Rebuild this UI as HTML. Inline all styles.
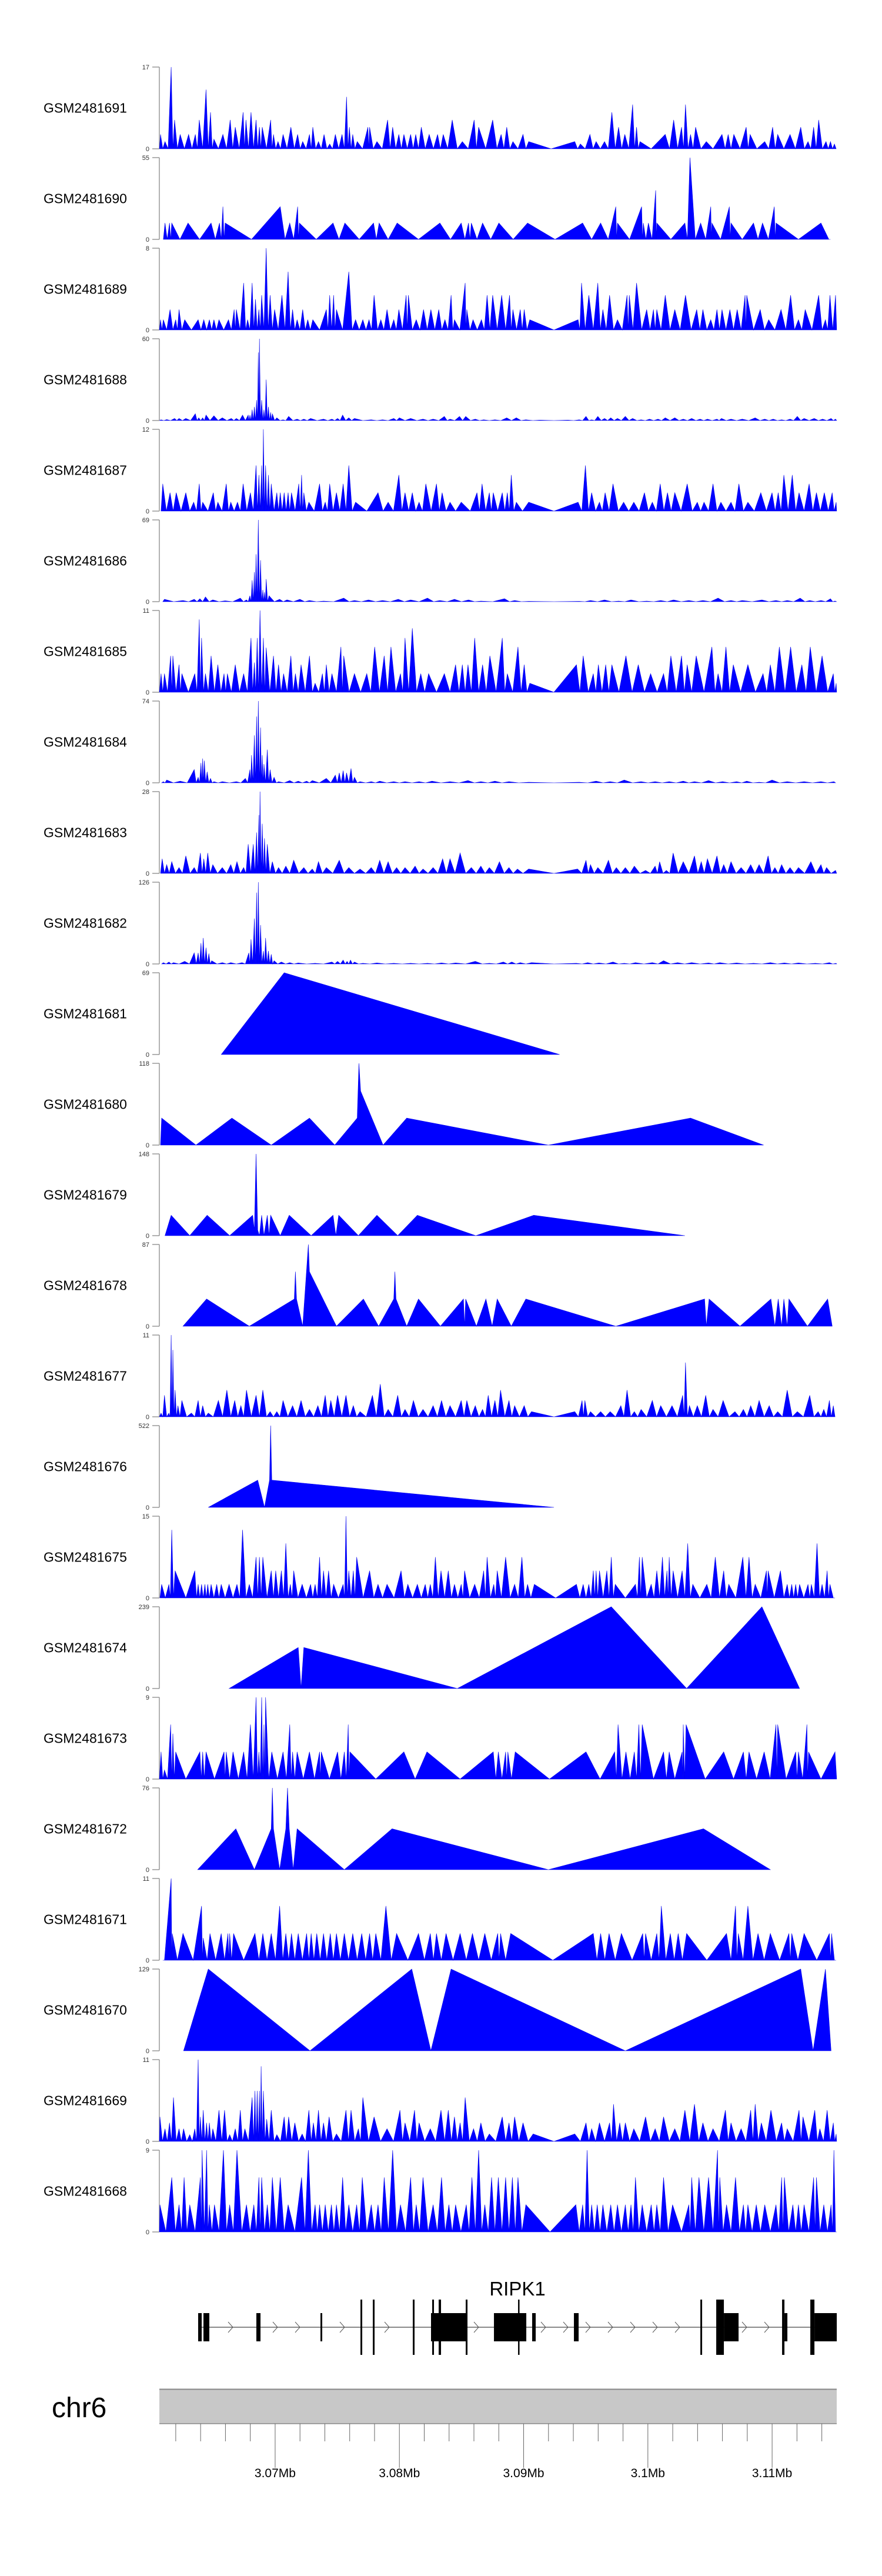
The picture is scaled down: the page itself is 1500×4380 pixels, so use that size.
<!DOCTYPE html>
<html><head><meta charset="utf-8">
<style>
html,body{margin:0;padding:0;background:#fff;}
svg{display:block;font-family:"Liberation Sans",Arial,sans-serif;}
</style></head>
<body>
<svg id="fig" xmlns="http://www.w3.org/2000/svg" width="1500" height="4380" viewBox="0 0 1500 4380">
<rect x="0" y="0" width="1500" height="4380" fill="#ffffff"/>
<g id="tracks"></g>
<g id="gene"></g>
<g id="ideo"></g>
</svg>
<script>
// ---- data ----
const trackNames=["GSM2481691","GSM2481690","GSM2481689","GSM2481688","GSM2481687","GSM2481686","GSM2481685","GSM2481684","GSM2481683","GSM2481682","GSM2481681","GSM2481680","GSM2481679","GSM2481678","GSM2481677","GSM2481676","GSM2481675","GSM2481674","GSM2481673","GSM2481672","GSM2481671","GSM2481670","GSM2481669","GSM2481668"];
const trackMax=[17,55,8,60,12,69,11,74,28,126,69,118,148,87,11,522,15,239,9,76,11,129,11,9];
// 's' = spiky peaks (zero between peaks), 'v' = explicit vertices
const trackMode=["s","s","s","s","s","s","s","s","s","s","v","v","v","v","s","v","s","v","s","v","s","v","s","s"];
// positions are genomic bins: bp = binOrigin + bin*binSize
const binOrigin=3047880, binSize=45.24;
const track01=[[285,3],[293,1.5],[304,17],[310,6],[320,3],[335,3],[347,3],[354,6],[366,12.3],[374,7.6],[380,2],[396,3],[409,6],[418,4.5],[432,7.6],[437,6],[446,7.6],[455,6],[461,4.5],[466,4.5],[481,6],[486,3],[494,1.5],[503,3],[517,4.5],[529,3],[538,1.5],[550,3],[556,4.5],[566,1.5],[576,3],[586,1],[596,3],[608,3],[616,10.8],[621,4.5],[627,3],[635,1.5],[654,4.5],[657,4.5],[670,1.5],[689,6],[698,4.5],[709,3],[718,3],[730,3],[739,3],[749,4.5],[763,3],[778,3],[788,3],[804,6],[822,1.5],[843,6],[851,4.5],[876,6],[891,3],[901,4.5],[912,1.5],[930,3],[940,1.5],[980,0],[1022,1.5],[1032,1],[1049,3],[1060,1.5],[1075,1.5],[1088,7.6],[1100,4.5],[1111,3],[1125,9.2],[1132,4.5],[1138,1.5],[1158,0],[1183,3],[1198,6],[1212,4.5],[1219,9.2],[1228,3],[1237,4.5],[1256,1.5],[1268,0],[1284,3],[1295,3],[1305,3],[1327,4.5],[1334,3],[1346,0],[1360,1.5],[1374,4.5],[1383,3],[1405,3],[1424,4.5],[1437,1.5],[1447,4.5],[1456,6],[1469,1.5],[1477,1.5],[1484,1]];
const track02=[[293,11],[301,11],[305,11],[334,11],[375,11],[390,11],[396,22],[400,11],[447,0],[498,22],[515,11],[529,22],[532,11],[592,11],[613,11],[664,11],[674,11],[706,11],[782,11],[820,11],[833,11],[838,11],[858,11],[887,11],[938,11],[1036,11],[1068,11],[1095,22],[1098,11],[1141,22],[1144,11],[1153,11],[1166,33],[1168,11],[1218,11],[1227,55],[1246,11],[1264,22],[1266,11],[1297,22],[1300,11],[1340,11],[1356,11],[1377,22],[1380,11],[1460,11],[1474,0]];
const track03=[[285,1],[290,1],[302,2],[312,1],[318,2],[328,1],[352,1],[362,1],[372,1],[380,1],[389,1],[406,1],[416,2],[420,2],[433,4.6],[440,1],[448,4.6],[454,3],[460,2],[465,3.4],[473,8],[480,3.4],[488,2],[501,3.4],[512,5.7],[520,2],[528,1],[538,2],[547,1],[556,1],[580,2],[586,3.4],[593,3.4],[598,2],[620,5.7],[632,1],[645,1],[656,1],[665,3.4],[677,1],[688,2],[700,1],[709,2],[722,3.4],[726,3.4],[740,1],[753,2],[766,2],[780,2],[791,1],[802,3.4],[808,1],[827,4.6],[830,2],[841,1],[856,1],[866,3.4],[876,3.4],[892,3.4],[906,3.4],[912,2],[925,2],[932,2],[942,1],[985,0],[1028,1],[1034,4.6],[1047,3.4],[1063,4.6],[1072,2],[1084,3.4],[1098,1],[1115,3.4],[1119,3.4],[1132,4.6],[1150,2],[1162,2],[1168,2],[1183,3.4],[1200,2],[1219,3.4],[1239,2],[1250,2],[1264,1],[1275,2],[1284,2],[1298,2],[1311,2],[1325,3.4],[1328,3.4],[1352,2],[1367,1],[1389,2],[1406,3.4],[1420,1],[1432,2],[1456,3.4],[1468,1],[1476,3.4],[1486,3.4]];
const track04=[[286,0.5],[296,0.7],[310,1.5],[318,1.5],[330,1.5],[347,5],[353,2],[360,2],[366,4],[380,3.5],[395,2],[411,1.5],[420,1.5],[431,4],[441,4],[444,4],[448,8],[452,10],[456,15],[459,50],[461,60],[465,15],[469,8],[473,30],[477,10],[481,6],[484,5],[492,2],[503,0.5],[513,3],[528,1],[540,1],[552,1.5],[575,1],[590,1],[600,1.5],[609,4],[620,2],[630,1.5],[660,0.5],[680,0.5],[700,1.5],[710,2],[730,1.5],[752,1],[770,1],[790,3],[800,1],[817,3],[828,3],[845,1],[860,0.5],[880,0.5],[901,2],[918,2],[935,0.5],[960,0.3],[985,0],[1010,0.3],[1030,0.5],[1042,3],[1052,0.5],[1063,3],[1075,1.5],[1086,2],[1098,1.5],[1112,3],[1125,1.5],[1140,0.5],[1155,1],[1170,1],[1183,2],[1200,2],[1215,1],[1230,1.5],[1245,1],[1258,1],[1275,1],[1283,1.5],[1300,1],[1320,1],[1343,2],[1360,1],[1375,1],[1390,0.5],[1405,1],[1418,3],[1430,1.5],[1448,1.5],[1463,1],[1478,1.5],[1486,1]];
const track05=[[289,4],[302,2.7],[313,2.7],[330,2.7],[344,1.3],[354,4],[360,1.3],[379,2.7],[387,1.3],[402,4],[410,1.3],[422,1.3],[432,4],[445,2.7],[455,6.7],[460,5.3],[465,6.7],[468,12],[472,6.7],[477,5.3],[482,4],[492,2.7],[498,2.7],[505,2.7],[512,2.7],[518,2.7],[531,4],[536,5.3],[540,2.7],[549,1.3],[568,4],[578,1.3],[586,4],[598,2.7],[610,4],[620,6.7],[632,1.3],[652,0],[672,2.7],[690,1.3],[709,5.3],[720,2.7],[733,2.7],[745,1.3],[757,4],[776,4],[786,2.7],[800,1.3],[820,1.3],[836,0],[848,2.7],[857,4],[870,2.7],[877,2.7],[893,2.7],[902,2.7],[909,5.3],[918,1.3],[940,1.3],[985,0],[1028,1.3],[1041,6.7],[1052,2.7],[1066,1.3],[1076,2.7],[1090,4],[1109,1.3],[1127,1.3],[1146,2.7],[1160,1.3],[1174,4],[1187,2.7],[1200,2.7],[1222,4],[1240,1.3],[1252,1.3],[1268,4],[1282,1.3],[1300,1.3],[1314,4],[1330,1.3],[1353,2.7],[1373,2.7],[1384,2.7],[1394,5.3],[1409,5.3],[1421,2.7],[1439,4],[1452,2.7],[1466,2.7],[1480,2.7],[1487,1.3]];
const track06=[[292,2],[325,1],[345,2],[355,2.5],[365,4],[378,1.5],[400,0.7],[427,3],[438,1.5],[444,5],[448,18],[452,25],[455,40],[459,69],[463,35],[467,10],[470,8],[473,19],[478,5],[497,2],[510,1.5],[533,2],[550,1],[575,0.5],[611,3],[630,1],[655,1.5],[680,1],[708,2],[730,1.5],[760,3],[782,1],[808,2],[833,1.5],[855,0.5],[897,2.5],[915,1],[940,0.3],[985,0],[1030,0.3],[1050,1],[1075,1.5],[1100,0.5],[1122,1.5],[1150,0.5],[1175,1],[1198,1.5],[1225,1],[1250,1],[1277,3],[1300,1],[1320,1],[1355,1.5],[1380,1],[1400,1],[1423,3],[1440,1],[1460,1],[1477,2.5],[1485,0.5]];
const track07=[[286,2.5],[292,2.5],[303,4.9],[307,4.9],[318,3.7],[323,2.5],[346,2.5],[354,9.8],[358,7.3],[365,2.5],[375,4.9],[387,3.7],[398,2.5],[404,2.5],[418,3.7],[433,2.5],[446,7.3],[452,4],[457,7.3],[462,11],[468,7.3],[473,6],[486,4.9],[495,3.7],[504,2.5],[517,4.9],[525,2.5],[535,3.7],[550,4.9],[560,1.2],[573,2.5],[580,3.7],[590,2.5],[606,6.1],[611,4.9],[630,2.5],[652,2.5],[666,6.1],[683,4.9],[695,6.1],[712,2.5],[720,7.3],[733,8.6],[748,2.5],[762,2.5],[790,2.5],[810,3.7],[822,3.7],[832,3.7],[844,7.3],[858,3.7],[871,4.9],[893,7.3],[902,2.5],[921,6.1],[932,3.7],[942,1.2],[985,0],[1025,3.7],[1037,4.9],[1055,2.5],[1064,3.7],[1077,3.7],[1088,3.7],[1113,4.9],[1135,3.7],[1157,2.5],[1180,2.5],[1193,4.9],[1212,4.9],[1222,3.7],[1238,4.9],[1266,6.1],[1277,2.5],[1291,6.1],[1304,3.7],[1330,3.7],[1357,2.5],[1370,3.7],[1386,6.1],[1406,6.1],[1426,3.7],[1441,6.1],[1462,4.9],[1482,2.5],[1487,1.2]];
const track08=[[290,1],[296,2.5],[320,1.5],[345,12],[352,5],[357,18],[360,22],[363,20],[368,10],[374,4],[380,1],[395,1],[420,1],[436,4],[444,12],[447,25],[452,43],[456,60],[459,74],[463,50],[466,25],[469,17],[475,30],[480,12],[487,5],[495,1],[515,2],[530,1.5],[545,1.5],[555,2],[580,4],[596,7],[603,9],[610,11],[616,9],[624,13],[630,5],[640,1],[660,1],[675,1.5],[700,1],[720,1],[745,1],[768,1.5],[800,1],[832,2],[855,1],[880,1.5],[905,1],[940,0.5],[985,0],[1030,0.5],[1060,1.5],[1085,1],[1110,2.5],[1140,1],[1165,1],[1190,1],[1215,1.5],[1235,1],[1260,2],[1285,1],[1310,1],[1328,1.5],[1350,0.5],[1373,2.5],[1400,1],[1430,1],[1460,1],[1483,1]];
const track09=[[288,5],[296,3],[305,4],[318,2],[330,6],[345,2],[356,7],[362,5],[369,7],[378,3],[395,2],[410,3],[421,4],[433,2],[441,10],[450,10],[456,14],[460,20],[462,28],[466,17],[470,12],[475,10],[484,4],[495,2],[508,2.5],[522,4.5],[540,2],[555,1.5],[566,4],[580,2],[603,4.5],[620,2],[640,1.5],[660,2],[675,4.5],[690,4],[705,2],[720,2],[738,2.5],[752,1.5],[770,2],[787,5],[800,5],[818,7],[838,2],[855,2.5],[870,2],[888,4],[905,2],[920,1.5],[940,1.5],[985,0],[1027,1.5],[1042,4.5],[1050,3],[1063,2],[1082,4.5],[1096,2],[1112,2],[1128,2.5],[1148,1],[1165,2.5],[1173,4],[1185,1],[1197,7],[1215,4],[1235,6],[1247,4],[1258,5],[1275,6],[1287,3],[1300,4],[1318,2],[1335,3],[1350,3],[1366,6],[1378,2],[1390,3],[1405,2],[1420,2],[1442,4],[1460,3],[1470,2],[1486,1]];
const track10=[[290,2],[300,3],[308,2],[328,4],[345,17],[352,17],[357,32],[361,40],[366,25],[371,16],[376,5],[395,2],[410,2],[430,2],[442,17],[446,38],[452,70],[456,110],[459,126],[463,60],[468,20],[472,40],[477,20],[482,15],[487,5],[500,3],[515,2],[530,1.5],[560,1],[590,3],[600,4],[610,6],[617,4],[623,6],[630,3],[645,1],[670,1.5],[700,1],[730,1],[760,1],[785,1.5],[810,1.5],[845,4],[870,1],[895,3],[910,3],[925,2],[945,2],[985,0],[1025,1],[1045,2],[1065,1.5],[1090,3],[1110,1],[1130,2],[1160,2],[1180,5],[1205,2],[1230,2],[1260,1.5],[1280,2],[1310,1.5],[1340,1],[1370,2],[1395,1.5],[1420,1.5],[1450,1],[1475,2],[1487,1]];
const track11=[[393,0],[505,69],[995,0]];
const track12=[[285,0],[287,39],[348,0],[412,39],[482,0],[550,39],[595,0],[635,39],[638,118],[641,78],[681,0],[723,39],[975,0],[1228,39],[1358,0]];
const track13=[[293,0],[304,37],[337,0],[368,37],[408,0],[449,37],[452,10],[455,148],[458,10],[461,0],[465,37],[469,0],[475,37],[478,0],[481,37],[498,0],[514,37],[553,0],[592,37],[597,0],[602,37],[637,0],[670,37],[707,0],[742,37],[846,0],[949,37],[1218,0]];
const track14=[[325,0],[367,29],[443,0],[523,29],[525,58],[527,29],[538,0],[548,87],[550,58],[598,0],[646,29],[673,0],[700,29],[702,58],[704,29],[723,0],[744,29],[783,0],[824,29],[826,0],[828,29],[847,0],[864,29],[875,0],[884,29],[909,0],[935,29],[1095,0],[1253,29],[1256,0],[1261,29],[1316,0],[1371,29],[1378,0],[1384,29],[1390,0],[1394,29],[1400,0],[1403,29],[1436,0],[1472,29],[1480,0]];
const track15=[[286,0.5],[292,2.9],[300,0.5],[304,11],[307,9],[311,3.6],[316,1.5],[323,2.2],[340,0.5],[352,2.2],[360,1.5],[370,0.5],[388,2.2],[403,3.6],[417,2.2],[428,1.5],[438,3.6],[455,2.9],[467,3.6],[480,0.7],[492,0.7],[503,2.2],[520,1.5],[535,2.2],[550,1],[565,1.5],[578,2.9],[588,2.2],[600,2.9],[615,2.9],[628,1.5],[640,0.7],[662,2.9],[676,4.4],[690,1],[707,2.9],[720,1],[735,2.2],[752,1],[770,1.5],[785,2.2],[800,1.5],[820,2.2],[830,2.2],[845,1.5],[858,1],[868,2.9],[880,2.2],[890,3.6],[905,2.2],[915,1.5],[932,1.5],[945,0.7],[985,0],[1022,0.7],[1035,2.2],[1040,2.2],[1050,0.7],[1068,0.7],[1085,0.7],[1104,1.5],[1115,3.6],[1128,0.7],[1140,1],[1160,2.2],[1175,1.5],[1195,1.5],[1214,2.9],[1219,7.3],[1226,1.5],[1240,1.5],[1255,2.9],[1268,1],[1286,2.2],[1307,0.7],[1322,1],[1335,1.5],[1350,2.2],[1368,1.5],[1383,0.7],[1400,3.6],[1418,0.7],[1440,2.9],[1455,0.7],[1465,1],[1475,2.2],[1482,1.5]];
const track16=[[370,0],[458,174],[470,0],[479,174],[481,522],[483,174],[985,0]];
const track17=[[287,2.5],[300,2.5],[305,12.5],[311,5],[330,0],[346,5],[352,2.5],[358,2.5],[364,2.5],[369,2.5],[375,2.5],[385,2.5],[393,2.5],[407,2.5],[421,2.5],[431,12.5],[443,2.5],[455,7.5],[461,7.5],[467,7.5],[482,5],[490,5],[500,5],[508,10],[516,2.5],[522,5],[537,2.5],[552,2.5],[560,2.5],[568,7.5],[575,5],[584,5],[593,2.5],[610,2.5],[615,15],[620,5],[628,5],[634,7.5],[657,5],[672,2.5],[688,2.5],[713,5],[725,2.5],[742,2.5],[756,2.5],[765,2.5],[774,7.5],[784,5],[797,5],[808,2.5],[820,2.5],[826,5],[844,2.5],[860,5],[866,7.5],[878,2.5],[884,5],[899,7.5],[915,2.5],[928,7.5],[938,2.5],[950,2.5],[988,0],[1025,2.5],[1037,2.5],[1047,2.5],[1055,5],[1060,5],[1066,5],[1079,5],[1087,7.5],[1094,2.5],[1130,2.5],[1137,7.5],[1142,7.5],[1158,2.5],[1168,5],[1178,7.5],[1186,5],[1190,7.5],[1197,5],[1213,5],[1223,10],[1232,2.5],[1257,2.5],[1272,7.5],[1287,5],[1296,2.5],[1321,7.5],[1332,7.5],[1343,2.5],[1363,5],[1366,5],[1388,5],[1400,2.5],[1408,2.5],[1415,2.5],[1422,2.5],[1437,2.5],[1443,2.5],[1453,10],[1462,2.5],[1471,5],[1476,2.5],[1482,0]];
const track18=[[407,0],[530,120],[535,0],[540,120],[813,0],[1087,239],[1221,0],[1355,239],[1422,0]];
const track19=[[286,3],[292,1],[303,6],[307,5],[312,3],[330,0],[355,3],[360,3],[366,3],[381,0],[398,3],[402,3],[414,3],[433,3],[445,6],[455,9],[460,3],[465,9],[469,6],[472,9],[483,3],[503,3],[515,6],[520,3],[528,3],[550,3],[568,3],[571,3],[600,3],[612,3],[619,6],[622,3],[668,0],[718,3],[738,0],[759,3],[818,0],[877,3],[886,3],[899,3],[903,3],[916,3],[977,0],[1042,3],[1067,0],[1093,3],[1099,6],[1113,3],[1128,3],[1136,6],[1142,6],[1162,0],[1180,3],[1190,3],[1200,0],[1213,3],[1215,6],[1220,6],[1254,0],[1287,3],[1322,3],[1332,3],[1359,3],[1380,6],[1383,6],[1398,0],[1415,3],[1420,3],[1435,6],[1438,3],[1460,0],[1485,3]];
const track20=[[351,0],[419,38],[452,0],[482,38],[484,76],[486,38],[497,0],[508,38],[511,76],[514,38],[521,0],[528,38],[612,0],[697,38],[975,0],[1251,38],[1370,0]];
const track21=[[292,0],[304,11],[306,3.6],[315,0],[325,3.6],[343,0],[358,7.3],[361,3],[368,0],[373,3.6],[393,3.6],[405,3.6],[408,3.6],[415,3.6],[433,0],[453,3.6],[467,3.6],[482,3.6],[497,7.3],[508,3.6],[518,3.6],[530,3.6],[545,3.6],[553,3.6],[563,3.6],[575,3.6],[587,3.6],[598,3.6],[612,3.6],[627,3.6],[643,3.6],[657,3.6],[668,3.6],[686,7.3],[705,3.6],[725,0],[744,3.6],[765,3.6],[776,3.6],[793,3.6],[818,3.6],[840,3.6],[862,3.6],[885,3.6],[890,3.6],[908,3.6],[983,0],[1055,3.6],[1068,3.6],[1083,3.6],[1105,3.6],[1143,3.6],[1148,3.6],[1168,3.6],[1176,7.3],[1192,3.6],[1206,3.6],[1221,3.6],[1257,0],[1292,3.6],[1308,7.3],[1313,3.6],[1330,7.3],[1348,3.6],[1370,3.6],[1403,3.6],[1408,3.6],[1430,3.6],[1475,3.6],[1479,3.6],[1484,0]];
const track22=[[326,0],[370,129],[551,0],[732,129],[766,0],[802,129],[1112,0],[1424,129],[1446,0],[1468,129],[1478,0]];
const track23=[[284,3.3],[293,1.7],[301,2.5],[308,5.9],[318,1.7],[326,1.7],[337,0.9],[346,1.7],[352,11],[356,3.3],[361,4.2],[367,2.5],[372,2.5],[378,1.7],[389,4.2],[399,4.2],[408,0.9],[418,1.7],[427,4.2],[435,1.7],[448,5.9],[453,6.8],[457,6.8],[461,6.8],[464,10.1],[468,6.8],[474,3],[482,4.2],[492,0.9],[505,3.3],[513,3.3],[524,2.5],[537,1],[549,4.2],[557,2.5],[566,4.2],[575,2.5],[585,3.3],[598,1],[615,4.2],[624,4.2],[637,1.7],[645,5.9],[665,3.3],[688,1.7],[711,4.2],[720,2.5],[737,4.2],[745,2.5],[765,1.7],[784,4.2],[797,4.2],[808,3.3],[818,2.5],[827,5.9],[842,1.7],[855,2.5],[870,1],[893,3.3],[905,2.5],[915,3.3],[930,2.5],[948,1],[985,0],[1022,1],[1042,2.5],[1052,1.7],[1066,2.5],[1084,2.5],[1091,5],[1102,2.5],[1112,2.5],[1127,1.7],[1148,3.3],[1165,1.7],[1180,3.3],[1200,1.7],[1218,4.2],[1235,5],[1250,2.5],[1268,1.7],[1290,4.2],[1300,2.5],[1318,1.7],[1335,4.2],[1343,5],[1354,2.5],[1371,4.2],[1390,2.5],[1400,1.7],[1421,4.2],[1428,3.3],[1449,4.2],[1458,1.7],[1471,4.2],[1482,2.5],[1487,1]];
const track24=[[284,3],[305,6],[318,3],[327,6],[337,3],[356,6],[359,9],[367,9],[372,3],[381,3],[397,9],[408,3],[421,9],[438,3],[451,3],[460,6],[465,6],[475,3],[484,6],[498,6],[512,3],[536,6],[548,9],[560,3],[568,3],[578,3],[589,3],[598,3],[609,6],[620,3],[634,3],[644,6],[660,3],[672,3],[683,6],[698,9],[712,3],[730,6],[740,3],[752,6],[770,3],[785,6],[798,3],[810,3],[829,3],[839,6],[851,9],[862,3],[874,6],[886,6],[899,6],[911,6],[921,6],[935,3],[978,0],[1024,3],[1036,3],[1044,9],[1052,3],[1062,3],[1072,3],[1086,3],[1098,3],[1112,3],[1122,3],[1130,6],[1142,3],[1158,3],[1168,3],[1180,6],[1196,3],[1212,0],[1225,3],[1230,6],[1243,6],[1260,6],[1276,9],[1280,6],[1292,3],[1308,6],[1322,3],[1330,3],[1345,3],[1360,3],[1380,3],[1390,6],[1395,6],[1410,3],[1420,3],[1430,3],[1447,6],[1452,6],[1465,3],[1478,3],[1483,9],[1486,0]];
const trackData=[track01,track02,track03,track04,track05,track06,track07,track08,track09,track10,track11,track12,track13,track14,track15,track16,track17,track18,track19,track20,track21,track22,track23,track24];
// gene model (bp): exons [start,end,kind] kind: 's' short box, 't' tall
const geneName=["RIPK1"];
const geneStart=[3063804], geneEnd=[3115204];
const exonStarts=[3063804,3064230,3068489,3073648,3076867,3077861,3081079,3082641,3083162,3082546,3085339,3087611,3089551,3090687,3094048,3104224,3105502,3106117,3110802,3110992,3113074,3113406];
const exonEnds  =[3064088,3064703,3068821,3073790,3077009,3078003,3081221,3082783,3083351,3085386,3085481,3090214,3089646,3090971,3094426,3104366,3106117,3107300,3110992,3111228,3113406,3115204];
const exonKinds =["s","s","s","s","t","t","t","t","t","s","t","s","t","s","s","t","t","s","t","s","t","s"];
// axis
const axisStart=3060680, axisEnd=3115200;
const tickStart=3062000, tickEnd=3114000, tickStep=2000, majorStep=10000;
const chromName="chr6";

// ---- drawing ----
const NS="http://www.w3.org/2000/svg";
const X0=271, X1=1423;
function xs(bp){return X0+(bp-axisStart)/(axisEnd-axisStart)*(X1-X0);}
function bx(b){return xs(binOrigin+b*binSize);}
function mk(tag,attrs,parent){const e=document.createElementNS(NS,tag);for(const k in attrs)e.setAttribute(k,attrs[k]);parent.appendChild(e);return e;}

const tracksG=document.getElementById('tracks');
const TOP0=114, PITCH=154, H=139;
trackData.forEach((pts,i)=>{
  const top=TOP0+i*PITCH, base=top+H, max=trackMax[i];
  const yv=v=>base-(v/max)*H;
  const g=mk('g',{},tracksG);
  
  
  const lab=mk('text',{x:74,y:top+H/2+8,'font-size':23,fill:'#000'},g);
  
  
  lab.textContent=trackNames[i];
  const ax=mk('line',{x1:X0,y1:top,x2:X0,y2:base,stroke:'#888','stroke-width':1.3},g);
  
  
  [[max,top],[0,base]].forEach(([v,y])=>{
    const t=mk('line',{x1:259,y1:y,x2:X0,y2:y,stroke:'#888','stroke-width':1.3},g);
    
    
    const tl=mk('text',{x:254,y:y+4,'font-size':11,'text-anchor':'end',fill:'#333'},g);
    
    
    tl.textContent=String(v);
  });
  let verts=[];
  if(trackMode[i]==='v'){
    verts=pts.map(p=>[bx(p[0]),yv(p[1])]);
  } else {
    const first=pts[0][0];
    verts.push([bx(Math.max(283,first-3)),base]);
    pts.forEach((p,k)=>{
      if(k>0 && pts[k-1][1]>0 && p[1]>0){const m=(pts[k-1][0]+p[0])/2;verts.push([bx(m),base]);}
      verts.push([bx(p[0]),yv(p[1])]);
    });
    const last=pts[pts.length-1][0];
    verts.push([bx(Math.min(1488,last+3)),base]);
  }
  let d='M'+verts[0][0].toFixed(1)+','+base;
  verts.forEach(v=>{d+='L'+v[0].toFixed(1)+','+v[1].toFixed(1);});
  d+='L'+verts[verts.length-1][0].toFixed(1)+','+base+'Z';
  const area=mk('path',{d:d,fill:'#0000ff',stroke:'#0000ee','stroke-width':0.6,'stroke-linejoin':'miter'},g);
  
  
});

// gene
const geneG=document.getElementById('gene');
const GY=3957;
const gl=mk('line',{x1:xs(geneStart[0]),y1:GY,x2:xs(geneEnd[0]),y2:GY,stroke:'#444','stroke-width':1.3},geneG);


const exX=exonStarts.map((s,k)=>[xs(s),xs(exonEnds[k])]);
for(let cx=392;cx<1415;cx+=38){
  if(exX.some(e=>cx+5>e[0]-2&&cx-5<e[1]+2))continue;
  const c=mk('polyline',{points:(cx-4)+','+(GY-9)+' '+(cx+4)+','+GY+' '+(cx-4)+','+(GY+9),fill:'none',stroke:'#555','stroke-width':1},geneG);
  
  
}
exonStarts.forEach((s,k)=>{
  const x1=xs(s),x2=xs(exonEnds[k]);
  const tall=exonKinds[k]==='t';
  const y1=tall?3910:3933,y2=tall?4004:3981;
  const r=mk('rect',{x:x1,y:y1,width:Math.max(2.5,x2-x1),height:y2-y1,fill:'#000'},geneG);
  
  
});
const gt=mk('text',{x:880,y:3903,'font-size':33,'text-anchor':'middle',fill:'#000'},geneG);


gt.textContent=geneName[0];

// ideogram / axis
const ideoG=document.getElementById('ideo');
const ch=mk('text',{x:88,y:4110,'font-size':48,fill:'#000'},ideoG);


ch.textContent=chromName;
const band=mk('rect',{x:X0,y:4062,width:X1-X0,height:59,fill:'#c8c8c8'},ideoG);


const tb=mk('line',{x1:X0,y1:4062.5,x2:X1,y2:4062.5,stroke:'#888','stroke-width':2},ideoG);


const bb=mk('line',{x1:X0,y1:4121,x2:X1,y2:4121,stroke:'#777','stroke-width':1.2},ideoG);


for(let bp=tickStart;bp<=tickEnd;bp+=tickStep){
  const x=xs(bp), major=(bp%majorStep===0);
  const t=mk('line',{x1:x,y1:4121,x2:x,y2:major?4196:4151,stroke:'#666','stroke-width':1},ideoG);
  
  
  if(major){
    const l=mk('text',{x:x,y:4212,'font-size':21,'text-anchor':'middle',fill:'#000'},ideoG);
    
    
    l.textContent=(bp/1e6).toString()+'Mb';
  }
}
</script>
</body></html>
